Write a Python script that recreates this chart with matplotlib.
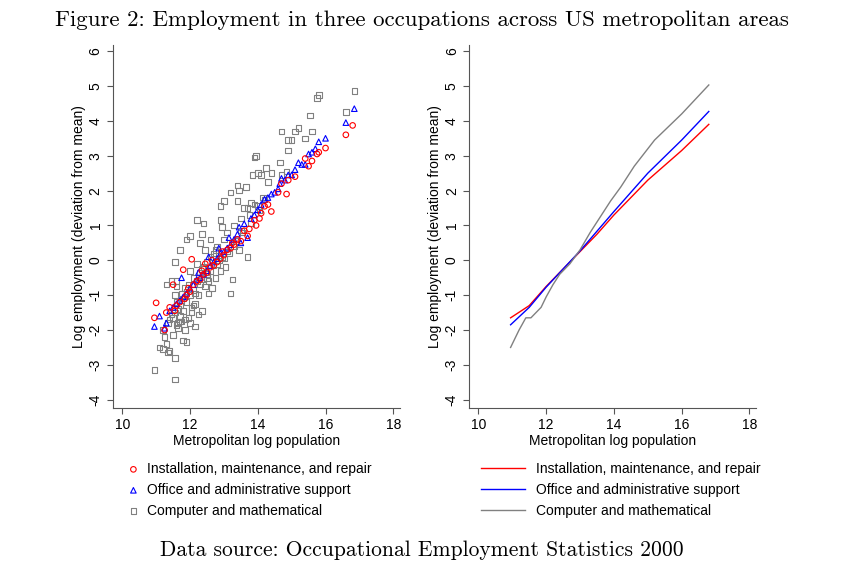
import matplotlib
matplotlib.use("Agg")
import matplotlib.pyplot as plt

# --- scatter data (approximate) ---
red_x = [16.8, 16.6, 16.0, 15.8, 15.75, 15.6, 15.5, 15.4, 15.1, 14.9, 14.85, 14.7, 14.6, 14.4, 14.3,
         14.2, 14.1, 13.95, 13.9, 13.7, 13.6, 13.5, 13.4, 13.3, 13.2, 13.1, 13.0, 12.9, 12.8, 12.7,
         12.6, 12.5, 12.4, 12.3, 12.2, 12.1, 12.0, 11.9, 11.8, 11.7, 11.6, 11.5, 11.4, 11.3, 11.25,
         11.0, 10.95, 12.05, 12.35, 12.65, 12.95, 13.25, 11.85, 11.55, 13.75, 14.05, 12.45, 11.95]
red_y = [3.87, 3.6, 3.22, 3.1, 3.05, 2.85, 2.7, 2.92, 2.4, 2.3, 1.9, 2.2, 1.95, 1.4, 1.6,
         1.55, 1.35, 1.0, 1.15, 0.7, 0.85, 0.55, 0.6, 0.45, 0.35, 0.3, 0.15, 0.05, -0.05, -0.15,
         -0.2, -0.35, -0.4, -0.55, -0.6, -0.7, -0.9, -1.0, -0.27, -1.2, -1.3, -0.7, -1.35, -1.5, -2.0,
         -1.22, -1.65, 0.03, -0.3, 0.0, 0.25, 0.5, -1.1, -1.45, 0.9, 1.2, -0.1, -0.8]

blue_x = [16.85, 16.6, 16.0, 15.8, 15.7, 15.6, 15.5, 15.4, 15.3, 15.2, 15.1, 15.0, 14.9, 14.8, 14.7,
          14.6, 14.5, 14.4, 14.3, 14.2, 14.1, 14.0, 13.9, 13.8, 13.7, 13.6, 13.5, 13.4, 13.3, 13.2,
          13.1, 13.0, 12.9, 12.8, 12.7, 12.6, 12.5, 12.4, 12.3, 12.2, 12.1, 12.0, 11.9, 11.8, 11.7,
          11.6, 11.5, 11.4, 11.3, 11.25, 11.1, 10.95, 12.25, 12.55, 12.85, 13.15, 11.75, 13.45, 14.65]
blue_y = [4.35, 3.95, 3.5, 3.4, 3.2, 3.1, 3.05, 2.75, 2.75, 2.8, 2.6, 2.45, 2.45, 2.3, 2.35,
          2.05, 1.95, 1.9, 1.8, 1.75, 1.6, 1.45, 1.3, 1.2, 0.65, 1.05, 0.5, 0.75, 0.6, 0.45,
          0.35, 0.25, 0.2, 0.05, -0.05, -0.15, -0.3, -0.4, -0.5, -0.55, -0.7, -0.8, -0.95, -1.05, -1.15,
          -1.25, -1.35, -1.45, -1.8, -1.95, -1.6, -1.9, -0.35, 0.1, 0.35, 0.65, -0.5, 0.95, 2.2]

grey_x = [16.85, 16.6, 15.8, 15.75, 15.55, 15.6, 15.2, 15.1, 15.0, 15.4, 14.9, 14.9, 14.85, 14.7, 14.7,
          14.65, 14.4, 14.3, 14.25, 14.1, 14.0, 13.95, 13.9, 13.85, 13.8, 13.7, 13.65, 13.4, 13.45, 13.4,
          13.2, 13.0, 12.9, 12.9, 12.2, 12.4, 12.0, 11.9, 12.35, 12.3, 11.7, 11.55, 11.6, 13.7, 13.2,
          13.6, 13.5, 13.3, 13.1, 13.0, 12.8, 12.7, 12.6, 12.5, 12.45, 12.4, 12.3, 12.2, 12.1, 12.0,
          11.95, 11.9, 11.85, 11.8, 11.75, 11.7, 11.65, 11.6, 11.55, 11.5, 11.45, 11.4, 11.35, 11.3, 11.25,
          11.2, 11.1, 10.95, 11.55, 11.8, 11.9, 12.15, 12.25, 12.35, 11.3, 11.45, 11.6, 11.7, 11.85, 12.0,
          12.1, 12.5, 12.75, 12.9, 13.05, 13.25, 13.35, 13.55, 13.75, 13.9, 14.05, 14.15, 12.6, 12.85, 12.55,
          12.15, 11.95, 11.75, 11.65, 11.5, 11.4, 12.45, 12.65, 13.15, 12.25, 12.05, 11.35, 11.2, 12.95, 13.45,
          11.55, 11.7, 11.8, 11.9, 12.0, 12.1, 12.2, 12.3, 12.4, 12.5, 12.6, 12.7, 12.8, 13.0, 13.1,
          11.6, 11.75, 11.85, 12.05, 12.15, 12.35, 12.55, 12.75, 12.95, 13.3, 13.5, 13.8, 14.0, 14.2, 11.65]
grey_y = [4.85, 4.25, 4.75, 4.65, 4.15, 3.7, 3.8, 3.7, 3.45, 3.5, 3.45, 3.15, 2.55, 3.7, 2.45,
          2.8, 2.5, 2.25, 2.65, 2.45, 2.5, 3.0, 2.95, 2.45, 1.65, 1.5, 2.1, 2.15, 2.0, 1.7,
          1.95, 1.7, 1.55, 1.15, 1.15, 1.05, 0.7, 0.6, 0.75, 0.5, 0.3, -0.05, -0.6, 0.1, -0.95,
          1.5, 1.2, 1.0, 0.8, 0.6, 0.4, 0.2, 0.1, -0.05, 0.3, -0.2, -0.35, -0.1, -0.5, -0.3,
          -0.7, -0.9, -0.8, -1.1, -0.95, -1.3, -1.4, -1.2, -1.5, -1.65, -1.55, -1.7, -1.8, -2.4, -2.2,
          -2.55, -2.5, -3.15, -2.8, -2.3, -2.35, -1.9, -1.55, -1.45, -0.7, -0.6, -0.75, -1.75, -2.0, -1.8,
          -1.3, -0.5, -0.5, -0.3, -0.2, -0.55, 0.55, 0.8, 1.3, 1.6, 1.45, 1.8, 0.6, 0.0, -0.95,
          -1.25, -1.65, -1.75, -1.95, -2.15, -2.6, -0.75, -0.8, 0.2, -1.0, -1.5, -2.65, -2.0, 0.95, 0.3,
          -1.0, -1.6, -1.45, -1.2, -1.0, -0.85, -0.6, -0.7, -0.55, -0.4, -0.3, -0.15, -0.1, 0.05, 0.25,
          -1.85, -1.15, -1.7, -1.35, -0.95, -0.25, -0.6, 0.3, 0.1, 0.4, 0.85, 1.05, 1.55, 1.75, -1.8]
grey_x += [11.55]
grey_y += [-3.42]

# --- smoothed lines (right panel) ---
red_lx = [10.95, 11.5, 12.0, 12.5, 13.0, 13.5, 14.0, 15.0, 16.0, 16.8]
red_ly = [-1.65, -1.3, -0.75, -0.25, 0.25, 0.75, 1.3, 2.3, 3.15, 3.9]
blue_lx = [10.95, 11.5, 12.0, 12.5, 13.0, 14.0, 15.0, 16.0, 16.8]
blue_ly = [-1.85, -1.35, -0.77, -0.25, 0.27, 1.4, 2.5, 3.45, 4.27]
grey_lx = [10.95, 11.2, 11.4, 11.55, 11.7, 11.85, 12.0, 12.2, 12.4, 12.7, 13.0, 13.3, 13.6, 13.9,
           14.2, 14.6, 15.2, 16.0, 16.8]
grey_ly = [-2.5, -2.0, -1.65, -1.65, -1.5, -1.35, -1.05, -0.7, -0.4, -0.1, 0.3, 0.8, 1.25, 1.7,
           2.1, 2.7, 3.45, 4.2, 5.03]

labels = ["Installation, maintenance, and repair",
          "Office and administrative support",
          "Computer and mathematical"]

plt.rcParams['font.family'] = ['Liberation Sans', 'DejaVu Sans']
plt.rcParams['axes.unicode_minus'] = False
fig = plt.figure(figsize=(8.44, 5.8), dpi=100)
ax1 = fig.add_axes([0.134, 0.297, 0.34, 0.625])
ax2 = fig.add_axes([0.556, 0.297, 0.34, 0.625])

ms = 16
ax1.scatter(grey_x, grey_y, marker='s', s=ms, facecolors='none', edgecolors='#808080', linewidths=0.8,
            label=labels[2], zorder=1)
ax1.scatter(blue_x, blue_y, marker='^', s=ms, facecolors='none', edgecolors='blue', linewidths=0.8,
            label=labels[1], zorder=2)
ax1.scatter(red_x, red_y, marker='o', s=ms, facecolors='none', edgecolors='red', linewidths=0.8,
            label=labels[0], zorder=3)

ax2.plot(red_lx, red_ly, color='red', lw=1, label=labels[0])
ax2.plot(blue_lx, blue_ly, color='blue', lw=1, label=labels[1])
ax2.plot(grey_lx, grey_ly, color='#808080', lw=1, label=labels[2])

for ax in (ax1, ax2):
    ax.set_xlim(9.73, 18.2)
    ax.set_ylim(-4.23, 6.17)
    ax.set_xticks([10, 12, 14, 16, 18])
    ax.set_yticks(range(-4, 7))
    for lab in ax.get_yticklabels():
        lab.set_rotation(90)
        lab.set_va('center')
    ax.tick_params(labelsize=10, length=4, color='#555555')
    ax.spines['top'].set_visible(False)
    ax.spines['right'].set_visible(False)
    ax.spines['left'].set_color('#555555')
    ax.spines['bottom'].set_color('#555555')
    ax.set_xlabel("Metropolitan log population", fontsize=10, labelpad=1)
    ax.set_ylabel("Log employment (deviation from mean)", fontsize=10, labelpad=2)

h, l = ax1.get_legend_handles_labels()
fig.legend(h[::-1], l[::-1], loc='upper left', bbox_to_anchor=(0.135, 0.225), frameon=False,
           fontsize=10, handlelength=1.0, handletextpad=0.5, labelspacing=0.5)
h2, l2 = ax2.get_legend_handles_labels()
fig.legend(h2, l2, loc='upper left', bbox_to_anchor=(0.555, 0.225), frameon=False,
           fontsize=10, handlelength=3.2, handletextpad=0.8, labelspacing=0.5)

fig.text(0.5, 0.965, "Figure 2: Employment in three occupations across US metropolitan areas",
         ha='center', va='center', fontsize=16.5, family=['cmr10', 'DejaVu Serif'])
fig.text(0.5, 0.052, "Data source: Occupational Employment Statistics 2000",
         ha='center', va='center', fontsize=15.5, family=['cmr10', 'DejaVu Serif'])

fig.savefig("out.png", dpi=100)
